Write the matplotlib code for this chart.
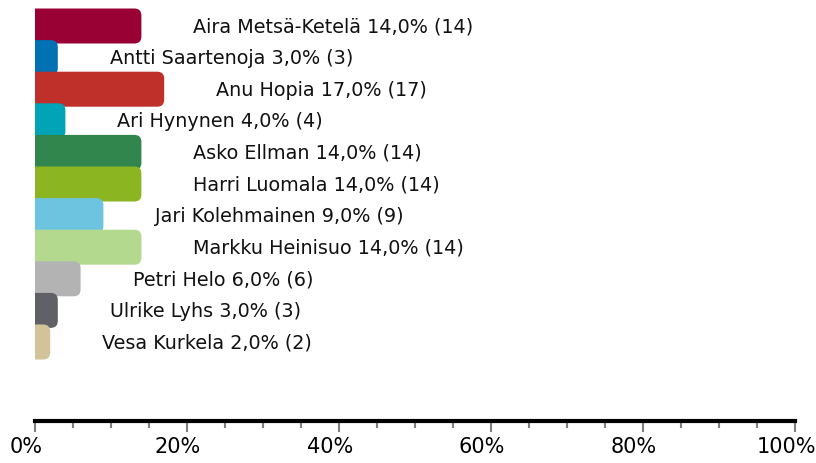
import numpy as np
import matplotlib
matplotlib.use('Agg')
import matplotlib.pyplot as plt
import matplotlib.transforms as mtrans
from matplotlib.patches import FancyBboxPatch
from matplotlib.ticker import MultipleLocator, FuncFormatter

names = ['Aira Metsä-Ketelä', 'Antti Saartenoja', 'Anu Hopia', 'Ari Hynynen',
         'Asko Ellman', 'Harri Luomala', 'Jari Kolehmainen', 'Markku Heinisuo',
         'Petri Helo', 'Ulrike Lyhs', 'Vesa Kurkela']
percents = [14.0, 3.0, 17.0, 4.0, 14.0, 14.0, 9.0, 14.0, 6.0, 3.0, 2.0]
counts = [14, 3, 17, 4, 14, 14, 9, 14, 6, 3, 2]
colors = ['#990033', '#0071b3', '#c0302a', '#00a4b6', '#31864d', '#8bb521',
          '#6cc4e0', '#b3d98f', '#b3b3b3', '#5f6166', '#d3c398']

fig = plt.figure(figsize=(8.16, 4.64), dpi=100)
ax = fig.add_axes([35/816, 42/464, 760/816, 422/464])

px_x = 760/100.0     # pixels per percent
pitch = 31.6         # pixels per bar slot
ax.set_xlim(0, 100)
ax.set_ylim((422-27)/pitch, -27/pitch)

bar_h = 35/pitch
r_px = 7
rx = r_px/px_x
aspect = (r_px/pitch)/rx

for i, (v, c) in enumerate(zip(percents, colors)):
    x0 = -3
    p = FancyBboxPatch((x0, i - bar_h/2), v - x0, bar_h,
                       boxstyle='round,pad=0,rounding_size=%f' % rx,
                       mutation_aspect=aspect, fc=c, ec='none', zorder=2+i)
    ax.add_patch(p)
    label = '%s %.1f%% (%d)' % (names[i], v, counts[i])
    label = label.replace('.', ',')
    ax.text(v + 52/px_x, i, label, va='center', ha='left', fontsize=13.8,
            color='#111111', zorder=20)

for s in ['top', 'right', 'left']:
    ax.spines[s].set_visible(False)
ax.spines['bottom'].set_linewidth(3)
ax.spines['bottom'].set_color('black')
ax.yaxis.set_visible(False)
ax.xaxis.set_major_locator(MultipleLocator(20))
ax.xaxis.set_minor_locator(MultipleLocator(5))
ax.xaxis.set_major_formatter(FuncFormatter(lambda x, p: '%d%%' % x))
ax.tick_params(axis='x', which='major', length=8, width=1.5, color='#808080',
               labelsize=15, pad=3)
ax.tick_params(axis='x', which='minor', length=5, width=1.5, color='#808080')

shift = mtrans.ScaledTranslation(-9/100, 0, fig.dpi_scale_trans)
for lbl in ax.get_xticklabels():
    lbl.set_transform(lbl.get_transform() + shift)

fig.savefig('out.png', dpi=100)
